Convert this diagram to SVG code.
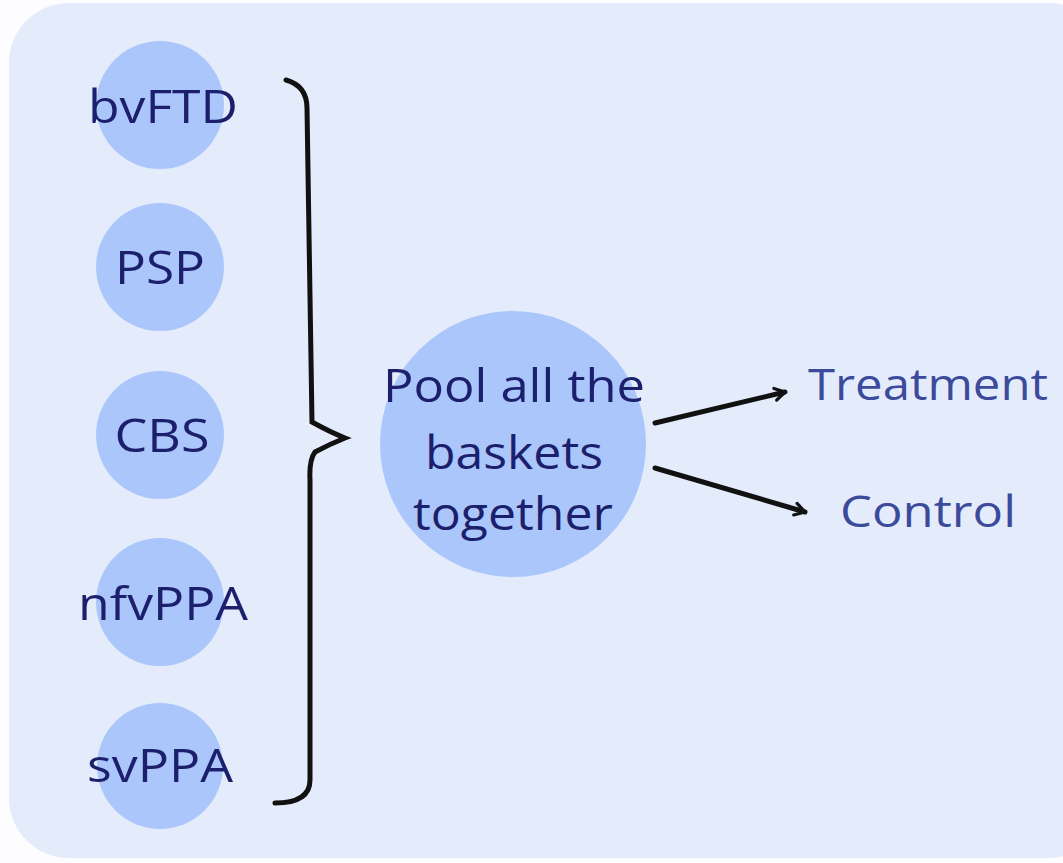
<svg xmlns="http://www.w3.org/2000/svg" width="1063" height="863" viewBox="0 0 1063 863">
<style>
.node{fill:#abc6fb}
.lbl{font-family:"Open Sans","Liberation Sans",Arial,sans-serif;font-size:46px;fill:#1b1f6c;text-anchor:middle}
.out{font-family:"Open Sans","Liberation Sans",Arial,sans-serif;font-size:44px;fill:#3b4a9b}
.conn{fill:none;stroke:#111;stroke-width:5;stroke-linecap:round}
</style>
<defs>
<marker id="arr" markerWidth="16" markerHeight="16" refX="13" refY="8" orient="auto" markerUnits="userSpaceOnUse">
<path d="M3,2 L13,8 L3,14" fill="none" stroke="#111" stroke-width="3.2" stroke-linejoin="round" stroke-linecap="round"/>
</marker>
</defs>
<rect x="0" y="0" width="1063" height="863" fill="#fdfdff"/>
<rect x="9" y="3" width="1100" height="855" rx="60" fill="#e4ecfc"/>
<g id="bvFTD"><circle class="node" cx="160" cy="105" r="64"/><text class="lbl" x="163" y="123" textLength="150" lengthAdjust="spacingAndGlyphs">bvFTD</text></g>
<g id="PSP"><circle class="node" cx="160" cy="267" r="64"/><text class="lbl" x="160" y="284" textLength="90" lengthAdjust="spacingAndGlyphs">PSP</text></g>
<g id="CBS"><circle class="node" cx="160" cy="435" r="64"/><text class="lbl" x="162" y="452" textLength="95" lengthAdjust="spacingAndGlyphs">CBS</text></g>
<g id="nfvPPA"><circle class="node" cx="160" cy="602" r="64"/><text class="lbl" x="163" y="620" textLength="170" lengthAdjust="spacingAndGlyphs">nfvPPA</text></g>
<g id="svPPA"><circle class="node" cx="160" cy="766" r="63"/><text class="lbl" x="160" y="782" textLength="146" lengthAdjust="spacingAndGlyphs">svPPA</text></g>
<g id="pool"><circle class="node" cx="513" cy="444" r="133"/>
<text class="lbl" x="514" y="402" textLength="262" lengthAdjust="spacingAndGlyphs">Pool all the</text>
<text class="lbl" x="514" y="469" textLength="178" lengthAdjust="spacingAndGlyphs">baskets</text>
<text class="lbl" x="513" y="530" textLength="200" lengthAdjust="spacingAndGlyphs">together</text></g>
<g id="treatment"><text class="out" x="808" y="400" textLength="240" lengthAdjust="spacingAndGlyphs">Treatment</text></g>
<g id="control"><text class="out" x="840" y="527" textLength="176" lengthAdjust="spacingAndGlyphs">Control</text></g>
<g id="connectors">
<path class="conn" d="M286,80 Q307,86 307,108 L312,422 Q330,432 345,438 Q330,444 315,452 Q309,460 310,480 L310,780 Q310,803 275,803"/>
<line class="conn" x1="655" y1="423" x2="785" y2="392" stroke-width="3.5" marker-end="url(#arr)"/>
<line class="conn" x1="655" y1="468" x2="805" y2="512" stroke-width="3.5" marker-end="url(#arr)"/>
</g>
</svg>
